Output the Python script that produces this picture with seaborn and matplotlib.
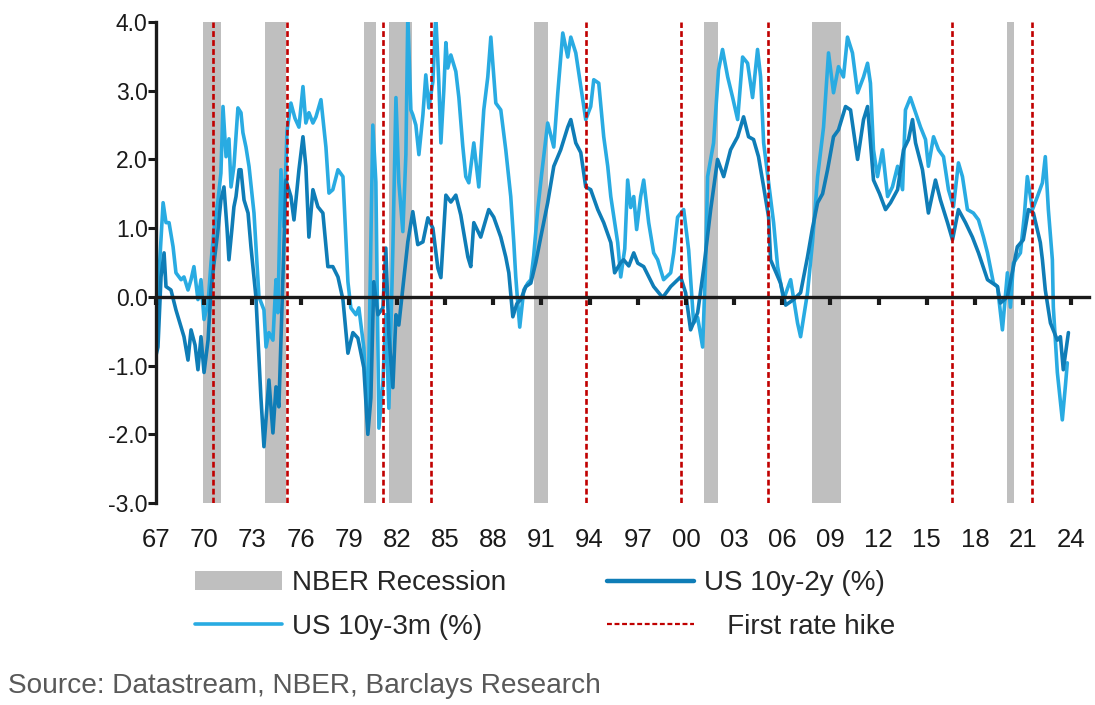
import matplotlib
matplotlib.use("Agg")
import numpy as np
import pandas as pd
import matplotlib.pyplot as plt
import matplotlib.patches as mpatches
from matplotlib.lines import Line2D
import seaborn as sns

# ── Data ───────────────────────────────────────────────────────
# US 10y-3m spread (%), decimal year
yr_3m = [1967.06, 1967.25, 1967.44, 1967.62, 1967.81, 1968.06, 1968.24, 1968.56, 1968.74, 1968.99,
         1969.18, 1969.36, 1969.61, 1969.80, 1969.99, 1970.24, 1970.42, 1970.61, 1970.86, 1971.04,
         1971.17, 1971.36, 1971.54, 1971.67, 1971.85, 1972.10, 1972.29, 1972.41, 1972.60, 1972.79,
         1973.10, 1973.41, 1973.72, 1973.85, 1974.03, 1974.28, 1974.47, 1974.59, 1974.78, 1974.97,
         1975.15, 1975.40, 1975.65, 1975.90, 1976.15, 1976.33, 1976.52, 1976.77, 1976.96, 1977.27,
         1977.58, 1977.77, 1978.01, 1978.33, 1978.64, 1978.95, 1979.13, 1979.45, 1979.63, 1979.94,
         1980.19, 1980.50, 1980.69, 1980.88, 1981.13, 1981.31, 1981.50, 1981.75, 1981.94, 1982.12,
         1982.37, 1982.56, 1982.68, 1982.87, 1982.99, 1983.18, 1983.37, 1983.62, 1983.80, 1983.99,
         1984.24, 1984.42, 1984.61, 1984.74, 1984.92, 1985.05, 1985.17, 1985.36, 1985.67, 1985.86,
         1986.10, 1986.29, 1986.48, 1986.79, 1987.10, 1987.41, 1987.66, 1987.85, 1988.16, 1988.47,
         1988.78, 1989.09, 1989.28, 1989.40, 1989.53, 1989.65, 1989.90, 1990.15, 1990.34, 1990.52,
         1990.77, 1991.02, 1991.39, 1991.77, 1992.02, 1992.33, 1992.64, 1992.83, 1993.14, 1993.45,
         1993.76, 1994.07, 1994.26, 1994.57, 1994.88, 1995.13, 1995.32, 1995.75, 1995.94, 1996.19,
         1996.37, 1996.56, 1996.75, 1996.93, 1997.18, 1997.37, 1997.68, 1997.99, 1998.24, 1998.61,
         1999.05, 1999.24, 1999.48, 1999.86, 2000.17, 2000.48, 2000.73, 2001.04, 2001.23, 2001.35,
         2001.72, 2002.03, 2002.28, 2002.60, 2002.91, 2003.22, 2003.53, 2003.84, 2004.15, 2004.46,
         2004.65, 2004.84, 2005.15, 2005.46, 2005.71, 2006.08, 2006.52, 2006.95, 2007.14, 2007.57,
         2007.88, 2008.20, 2008.57, 2008.88, 2009.19, 2009.50, 2009.81, 2010.06, 2010.37, 2010.69,
         2011.06, 2011.31, 2011.49, 2011.68, 2011.93, 2012.24, 2012.56, 2012.86, 2013.18, 2013.49,
         2013.67, 2013.98, 2014.30, 2014.61, 2014.92, 2015.10, 2015.42, 2015.73, 2016.04, 2016.35,
         2016.66, 2016.97, 2017.22, 2017.53, 2017.90, 2018.22, 2018.53, 2018.78, 2019.15, 2019.40,
         2019.71, 2020.02, 2020.21, 2020.39, 2020.83, 2021.08, 2021.26, 2021.58, 2021.89, 2022.20,
         2022.38, 2022.57, 2022.82, 2022.88, 2023.13, 2023.44, 2023.63, 2023.75]
val_3m = [-0.30, 0.60, 1.37, 1.08, 1.08, 0.73, 0.35, 0.25, 0.29, 0.10,
          0.25, 0.44, -0.04, 0.25, -0.33, -0.09, 0.49, 0.98, 1.41, 1.80,
          2.77, 2.04, 2.30, 1.60, 1.90, 2.75, 2.68, 2.39, 2.18, 1.90,
          1.22, 0.00, -0.19, -0.73, -0.52, -0.63, 0.25, -0.23, 1.85, 1.02,
          2.40, 2.82, 2.60, 2.47, 3.06, 2.53, 2.68, 2.53, 2.62, 2.87,
          2.18, 1.51, 1.56, 1.85, 1.75, 0.22, -0.16, -0.26, -0.16, -0.74,
          -1.86, 2.50, 1.67, -1.91, -1.24, -0.26, -1.62, 0.71, 2.90, 1.67,
          0.95, 2.07, 4.10, 2.72, 2.65, 2.50, 2.07, 2.65, 3.23, 2.75,
          3.13, 4.10, 3.13, 2.24, 3.00, 3.70, 3.33, 3.52, 3.28, 2.90,
          2.20, 1.75, 1.66, 2.24, 1.60, 2.72, 3.20, 3.78, 2.82, 2.72,
          2.14, 1.46, 0.79, 0.30, -0.10, -0.44, 0.10, 0.20, 0.25, 0.60,
          1.27, 1.80, 2.53, 2.18, 2.97, 3.84, 3.49, 3.78, 3.55, 3.06,
          2.58, 2.77, 3.16, 3.11, 2.33, 1.90, 1.46, 0.79, 0.29, 0.70,
          1.70, 1.30, 1.46, 0.98, 1.46, 1.70, 1.08, 0.64, 0.54, 0.25,
          0.35, 0.64, 1.16, 1.27, 0.68, -0.38, -0.30, -0.73, 0.50, 1.75,
          2.24, 3.30, 3.60, 3.20, 2.90, 2.58, 3.49, 3.40, 2.90, 3.60,
          3.20, 2.24, 1.66, 1.08, 0.44, -0.04, 0.25, -0.38, -0.58, 0.06,
          0.79, 1.75, 2.47, 3.55, 2.97, 3.35, 3.20, 3.78, 3.55, 2.97,
          3.20, 3.40, 3.11, 2.14, 1.75, 2.14, 1.46, 1.60, 1.90, 1.56,
          2.72, 2.90, 2.68, 2.47, 2.29, 1.90, 2.33, 2.14, 2.04, 1.56,
          1.31, 1.95, 1.75, 1.27, 1.22, 1.12, 0.87, 0.64, 0.20, 0.15,
          -0.48, 0.35, -0.15, 0.49, 0.64, 1.20, 1.75, 1.27, 1.46, 1.66,
          2.04, 1.27, 0.54, -0.15, -1.10, -1.79, -1.30, -0.96]

# US 10y-2y spread (%), decimal year
yr_2y = [1967.00, 1967.12, 1967.31, 1967.50, 1967.62, 1967.93, 1968.24, 1968.56, 1968.74, 1968.99,
         1969.18, 1969.43, 1969.61, 1969.80, 1969.99, 1970.24, 1970.42, 1970.61, 1970.86, 1971.04,
         1971.23, 1971.42, 1971.54, 1971.73, 1971.85, 1971.98, 1972.17, 1972.29, 1972.48, 1972.73,
         1972.91, 1973.22, 1973.53, 1973.72, 1974.03, 1974.28, 1974.47, 1974.65, 1974.90, 1975.09,
         1975.40, 1975.59, 1975.90, 1976.15, 1976.33, 1976.52, 1976.77, 1977.08, 1977.39, 1977.70,
         1978.01, 1978.33, 1978.64, 1978.95, 1979.26, 1979.57, 1979.94, 1980.19, 1980.38, 1980.56,
         1980.82, 1981.13, 1981.31, 1981.50, 1981.75, 1981.94, 1982.12, 1982.37, 1982.68, 1982.99,
         1983.30, 1983.62, 1983.93, 1984.24, 1984.55, 1984.74, 1985.05, 1985.36, 1985.67, 1985.98,
         1986.10, 1986.42, 1986.60, 1986.79, 1987.22, 1987.72, 1988.03, 1988.47, 1988.78, 1988.97,
         1989.22, 1989.47, 1989.71, 1990.03, 1990.34, 1990.65, 1990.96, 1991.39, 1991.77, 1992.20,
         1992.64, 1992.83, 1993.14, 1993.45, 1993.76, 1994.07, 1994.51, 1994.88, 1995.32, 1995.56,
         1995.94, 1996.12, 1996.44, 1996.75, 1997.00, 1997.37, 1997.99, 1998.55, 1999.05, 1999.67,
         1999.98, 2000.29, 2000.73, 2001.10, 2001.54, 2001.97, 2002.35, 2002.78, 2003.22, 2003.59,
         2003.90, 2004.21, 2004.52, 2004.84, 2005.15, 2005.27, 2005.89, 2006.21, 2006.70, 2007.14,
         2007.57, 2007.88, 2008.20, 2008.51, 2008.82, 2009.19, 2009.50, 2009.94, 2010.25, 2010.69,
         2011.06, 2011.31, 2011.68, 2012.06, 2012.43, 2012.74, 2013.18, 2013.55, 2013.86, 2014.11,
         2014.30, 2014.73, 2015.10, 2015.54, 2015.85, 2016.29, 2016.60, 2016.97, 2017.41, 2017.84,
         2018.22, 2018.78, 2019.40, 2019.58, 2020.02, 2020.64, 2021.01, 2021.33, 2021.64, 2022.07,
         2022.20, 2022.38, 2022.70, 2023.13, 2023.32, 2023.50, 2023.82]
val_2y = [-0.85, -0.73, 0.29, 0.64, 0.15, 0.10, -0.19, -0.44, -0.58, -0.92,
          -0.48, -0.70, -1.06, -0.58, -1.10, -0.63, 0.10, 0.49, 0.98, 1.41,
          1.60, 1.00, 0.54, 1.00, 1.31, 1.46, 1.85, 1.85, 1.41, 1.22,
          0.73, 0.00, -1.46, -2.18, -1.21, -1.98, -1.31, -1.60, 0.25, 1.70,
          1.46, 1.12, 1.85, 2.33, 1.90, 0.87, 1.56, 1.31, 1.22, 0.44,
          0.44, 0.29, -0.04, -0.82, -0.52, -0.60, -1.03, -2.00, -1.47, 0.22,
          -0.26, -0.16, 0.71, -0.55, -1.32, -0.26, -0.41, 0.13, 0.80, 1.24,
          0.76, 0.80, 1.15, 1.00, 0.42, 0.28, 1.48, 1.38, 1.48, 1.19,
          1.02, 0.58, 0.44, 1.08, 0.87, 1.27, 1.16, 0.87, 0.58, 0.35,
          -0.29, -0.10, -0.04, 0.15, 0.20, 0.50, 0.87, 1.37, 1.90, 2.14,
          2.47, 2.58, 2.24, 2.10, 1.60, 1.56, 1.27, 1.08, 0.79, 0.35,
          0.50, 0.54, 0.45, 0.64, 0.49, 0.44, 0.15, -0.01, 0.15, 0.29,
          0.06, -0.48, -0.23, 0.40, 1.27, 2.00, 1.75, 2.14, 2.33, 2.62,
          2.33, 2.29, 2.04, 1.60, 1.16, 0.54, 0.20, -0.12, -0.04, 0.06,
          0.58, 1.00, 1.37, 1.50, 1.85, 2.33, 2.43, 2.77, 2.72, 2.00,
          2.58, 2.77, 1.70, 1.50, 1.27, 1.37, 1.56, 2.14, 2.29, 2.58,
          2.24, 1.85, 1.22, 1.70, 1.41, 1.08, 0.83, 1.27, 1.08, 0.87,
          0.64, 0.25, 0.15, -0.09, 0.00, 0.73, 0.83, 1.27, 1.22, 0.79,
          0.54, 0.10, -0.38, -0.63, -0.58, -1.06, -0.52]

# NBER recessions (start, end) and first Fed rate hikes
rec_start = [1969.91, 1973.80, 1979.96, 1981.52, 1990.54, 2001.10, 2007.87, 2020.00]
rec_end = [1971.04, 1975.09, 1980.69, 1982.97, 1991.38, 2002.02, 2009.63, 2020.46]
hike_year = [1970.53, 1975.15, 1981.12, 1984.12, 1993.78, 1999.71, 2005.08, 2016.58, 2021.54]

xtick_year = list(range(1967, 2025, 3))
xtick_label = [f"{y % 100:02d}" for y in xtick_year]
ytick_val = [-3.0, -2.0, -1.0, 0.0, 1.0, 2.0, 3.0, 4.0]

# ── Style ──────────────────────────────────────────────────────
sns.set_theme(style="white")
plt.rcParams["font.family"] = ["Liberation Sans", "DejaVu Sans"]
C_LIGHT = "#29abe2"
C_DARK = "#0f7db7"
C_REC = "#bfbfbf"
C_HIKE = "#c00000"

df_3m = pd.DataFrame({"year": yr_3m, "spread": val_3m})
df_2y = pd.DataFrame({"year": yr_2y, "spread": val_2y})

fig = plt.figure(figsize=(10.95, 7.05), dpi=100)
ax = fig.add_axes([0.1425, 0.2865, 0.852, 0.6823])

for s, e in zip(rec_start, rec_end):
    ax.axvspan(s, e, color=C_REC, lw=0, zorder=0)

sns.lineplot(data=df_3m, x="year", y="spread", ax=ax, color=C_LIGHT, lw=2.6,
             estimator=None, legend=False, zorder=2)
sns.lineplot(data=df_2y, x="year", y="spread", ax=ax, color=C_DARK, lw=2.6,
             estimator=None, legend=False, zorder=3)

for h in hike_year:
    ax.axvline(h, color=C_HIKE, lw=1.9, ls=(0, (2.2, 1.2)), zorder=4)

ax.set_xlim(1967, 2025.1)
ax.set_ylim(-3, 4)
ax.set_xlabel("")
ax.set_ylabel("")

ax.set_xticks(xtick_year)
ax.set_xticklabels(xtick_label)
ax.set_yticks(ytick_val)
ax.set_yticklabels([f"{v:.1f}" for v in ytick_val])
ax.tick_params(axis="x", length=0, pad=18, labelsize=18.5, colors="#1a1a1a")
ax.tick_params(axis="y", direction="out", length=6, width=2.2, pad=0,
               labelsize=16.5, colors="#1a1a1a", left=True)

for side in ["top", "right", "bottom"]:
    ax.spines[side].set_visible(False)
ax.spines["left"].set_color("#1a1a1a")
ax.spines["left"].set_linewidth(2.4)
ax.spines["left"].set_zorder(6)

# zero line with its own tick marks
zero_ax = ax.secondary_xaxis(3 / 7)
zero_ax.set_xticks(xtick_year)
zero_ax.set_xticklabels([])
zero_ax.tick_params(axis="x", direction="out", length=6, width=3, color="#1a1a1a")
zero_ax.spines["bottom"].set_color("#1a1a1a")
zero_ax.spines["bottom"].set_linewidth(2.4)
zero_ax.set_zorder(5)

# ── Legend ─────────────────────────────────────────────────────
handles = [
    mpatches.Patch(color=C_REC, lw=0),
    Line2D([], [], color=C_LIGHT, lw=2.6),
    Line2D([], [], color=C_DARK, lw=3.2),
    Line2D([], [], color=C_HIKE, lw=1.6, ls=(0, (2.2, 1.2))),
]
labels = ["NBER Recession", "US 10y-3m (%)", "US 10y-2y (%)", "   First rate hike"]
fig.legend(handles, labels, ncol=2, loc="upper left", bbox_to_anchor=(0.178, 0.191),
           frameon=False, fontsize=20, handlelength=3.15, handletextpad=0.36,
           columnspacing=3.6, labelspacing=0.62, borderpad=0, borderaxespad=0)

fig.text(0.007, 1 - 686 / 705, "Source: Datastream, NBER, Barclays Research",
         fontsize=20.2, color="#595959", va="center", ha="left")

fig.savefig("out.png", dpi=100)
